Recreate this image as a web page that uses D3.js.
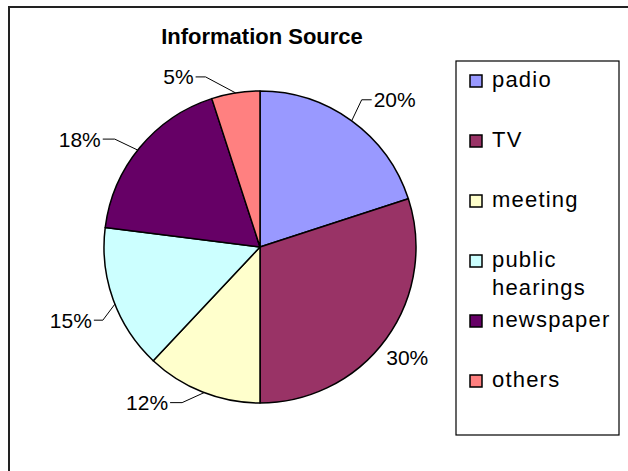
<!DOCTYPE html>
<html><head><meta charset="utf-8">
<script src="https://cdn.jsdelivr.net/npm/d3@7"></script>
<style>html,body{margin:0;padding:0;background:#fff;}svg{display:block;font-family:"Liberation Sans",Arial,sans-serif;}</style>
</head><body>
<svg id="c" width="628" height="471"></svg>
<script>
const categories = ["padio", "TV", "meeting", "public hearings", "newspaper", "others"];
const values = [20, 30, 12, 15, 18, 5];
const percentLabels = ["20%", "30%", "12%", "15%", "18%", "5%"];
const colors = ["#9999FF", "#993366", "#FFFFCC", "#CCFFFF", "#660066", "#FF8080"];
const legendLines = [["padio"], ["TV"], ["meeting"], ["public", "hearings"], ["newspaper"], ["others"]];
const title = "Information Source";

// label layout: leader anchor angle (deg), elbow offset, horizontal run, text side
const labelLayout = [
  {ang: 36,    ex: 10,  ey: -21, hx: 10,  side: "start"},
  {ang: 126,   side: "start", noLeader: true, tx: 0, ty: 26},
  {ang: 201,   ex: -22, ey: 10,  hx: -12, side: "end"},
  {ang: 248.5, ex: -12, ey: 16,  hx: -9,  side: "end"},
  {ang: 308.4, ex: -23, ey: -11, hx: -12, side: "end"},
  {ang: 351,   ex: -30, ey: -16, hx: -10, side: "end"}
];

const svg = d3.select("#c");
svg.append("rect").attr("x", 9).attr("y", 7).attr("width", 660).attr("height", 500)
  .attr("fill", "#fff").attr("stroke", "#222").attr("stroke-width", 2);

svg.append("text").attr("x", 262).attr("y", 44).attr("text-anchor", "middle")
  .attr("font-size", 22).attr("font-weight", "bold").text(title);

const cx = 260, cy = 247, r = 156;
const g = svg.append("g").attr("transform", `translate(${cx},${cy})`);
const pie = d3.pie().sort(null).value(d => d)(values);
const arc = d3.arc().innerRadius(0).outerRadius(r);
g.selectAll("path.s").data(pie).join("path").attr("class", "s")
  .attr("d", arc).attr("fill", (d, i) => colors[i])
  .attr("stroke", "#000").attr("stroke-width", 1.5).attr("stroke-linejoin", "round");

const rad = a => a * Math.PI / 180;
pie.forEach((d, i) => {
  const L = labelLayout[i];
  const ax = r * Math.sin(rad(L.ang)), ay = -r * Math.cos(rad(L.ang));
  if (L.noLeader) {
    g.append("text").attr("x", ax + L.tx).attr("y", ay + L.ty).attr("font-size", 21)
      .attr("text-anchor", L.side).text(percentLabels[i]);
    return;
  }
  const ex = ax + L.ex, ey = ay + L.ey, hx = ex + L.hx;
  g.append("path").attr("d", d3.line()([[ax, ay], [ex, ey], [hx, ey]]))
    .attr("fill", "none").attr("stroke", "#000").attr("stroke-width", 1);
  g.append("text").attr("x", hx + (L.side === "end" ? -2 : 2)).attr("y", ey + 7.5)
    .attr("font-size", 21).attr("text-anchor", L.side).text(percentLabels[i]);
});

// legend
const lg = svg.append("g");
lg.append("rect").attr("x", 456).attr("y", 61).attr("width", 163).attr("height", 374)
  .attr("fill", "#fff").attr("stroke", "#000").attr("stroke-width", 1.2);
const ly = d3.scalePoint().domain(categories).range([81, 381]);
categories.forEach((c, i) => {
  const y = ly(c);
  lg.append("rect").attr("x", 470).attr("y", y - 6).attr("width", 12).attr("height", 12)
    .attr("fill", colors[i]).attr("stroke", "#000").attr("stroke-width", 1.5);
  legendLines[i].forEach((t, j) => {
    lg.append("text").attr("x", 492).attr("y", y + 6 + j * 28).attr("font-size", 22)
      .attr("letter-spacing", 1.2).text(t);
  });
});
</script>
</body></html>
